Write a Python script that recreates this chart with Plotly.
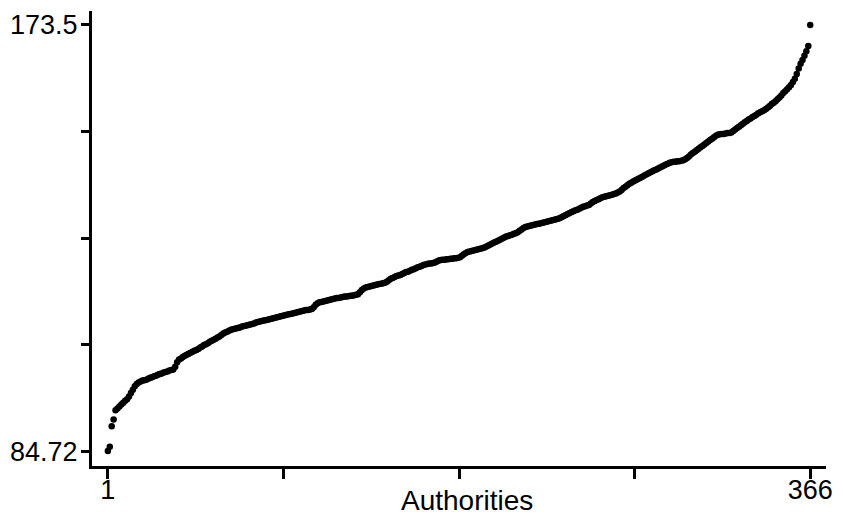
import plotly.graph_objects as go

# Sorted values for each authority (rank 1..366)
values = [
    84.72, 85.6, 89.9, 91.3, 93.2, 93.6, 94.0, 94.4, 94.8, 95.2,
    95.5, 96.1, 96.8, 97.5, 98.2, 98.7, 99.0, 99.2, 99.4, 99.5,
    99.6, 99.8, 100.0, 100.1, 100.3, 100.4, 100.6, 100.8, 100.9, 101.1,
    101.2, 101.3, 101.5, 101.6, 101.7, 102.3, 103.2, 103.8, 104.0, 104.3,
    104.6, 104.8, 105.0, 105.2, 105.4, 105.6, 105.8, 106.0, 106.3, 106.5,
    106.8, 107.0, 107.2, 107.5, 107.7, 107.9, 108.1, 108.4, 108.6, 108.9,
    109.2, 109.4, 109.6, 109.8, 110.0, 110.1, 110.2, 110.3, 110.4, 110.5,
    110.7, 110.8, 110.9, 111.0, 111.1, 111.2, 111.3, 111.5, 111.6, 111.7,
    111.8, 111.9, 112.0, 112.1, 112.2, 112.3, 112.4, 112.5, 112.6, 112.7,
    112.8, 112.9, 113.0, 113.1, 113.2, 113.3, 113.4, 113.5, 113.6, 113.7,
    113.8, 113.9, 114.0, 114.1, 114.1, 114.2, 114.3, 114.7, 115.2, 115.5,
    115.7, 115.8, 115.9, 116.0, 116.1, 116.2, 116.3, 116.4, 116.5, 116.6,
    116.6, 116.7, 116.8, 116.9, 116.9, 117.0, 117.1, 117.1, 117.2, 117.3,
    117.4, 117.8, 118.3, 118.6, 118.8, 118.9, 119.0, 119.1, 119.2, 119.3,
    119.4, 119.5, 119.6, 119.7, 119.8, 120.0, 120.3, 120.6, 120.8, 121.0,
    121.2, 121.3, 121.4, 121.6, 121.8, 122.0, 122.1, 122.3, 122.5, 122.6,
    122.8, 123.0, 123.1, 123.3, 123.5, 123.6, 123.7, 123.8, 123.8, 123.9,
    124.0, 124.2, 124.4, 124.5, 124.6, 124.6, 124.7, 124.7, 124.8, 124.8,
    124.9, 124.9, 125.0, 125.1, 125.4, 125.7, 126.0, 126.2, 126.3, 126.4,
    126.5, 126.6, 126.7, 126.8, 126.9, 127.0, 127.2, 127.4, 127.6, 127.8,
    128.0, 128.2, 128.4, 128.6, 128.8, 129.0, 129.2, 129.4, 129.5, 129.7,
    129.8, 130.0, 130.1, 130.3, 130.6, 130.9, 131.2, 131.4, 131.5, 131.6,
    131.7, 131.8, 131.9, 132.0, 132.1, 132.2, 132.3, 132.4, 132.5, 132.6,
    132.7, 132.8, 132.9, 133.0, 133.1, 133.3, 133.5, 133.7, 133.9, 134.1,
    134.3, 134.5, 134.7, 134.9, 135.0, 135.2, 135.4, 135.6, 135.7, 135.9,
    136.0, 136.3, 136.6, 136.8, 137.0, 137.2, 137.4, 137.6, 137.7, 137.8,
    137.9, 138.0, 138.1, 138.3, 138.4, 138.6, 138.8, 139.1, 139.5, 139.8,
    140.1, 140.4, 140.6, 140.9, 141.1, 141.3, 141.5, 141.7, 141.9, 142.2,
    142.4, 142.6, 142.8, 143.0, 143.2, 143.4, 143.6, 143.8, 144.0, 144.2,
    144.4, 144.6, 144.8, 144.9, 145.0, 145.0, 145.1, 145.1, 145.2, 145.3,
    145.5, 145.8, 146.1, 146.5, 146.8, 147.1, 147.4, 147.7, 148.0, 148.3,
    148.6, 148.9, 149.2, 149.5, 149.8, 150.1, 150.4, 150.6, 150.7, 150.8,
    150.8, 150.9, 151.0, 151.0, 151.1, 151.4, 151.7, 152.0, 152.3, 152.6,
    152.9, 153.2, 153.5, 153.8, 154.0, 154.3, 154.5, 154.8, 155.1, 155.3,
    155.5, 155.7, 156.0, 156.3, 156.6, 157.0, 157.3, 157.6, 158.0, 158.4,
    158.8, 159.3, 159.7, 160.1, 160.5, 161.0, 161.6, 162.3, 163.3, 164.4,
    165.4, 166.2, 167.1, 168.0, 169.1, 173.5,
]
ranks = list(range(1, len(values) + 1))

x_tickvals = [1, 92.25, 183.5, 274.75, 366]
x_ticktext = ["1", "", "", "", "366"]
y_tickvals = [84.72, 106.915, 129.11, 151.305, 173.5]
y_ticktext = ["84.72", "", "", "", "173.5"]
x_title = "Authorities"

FONT = "Liberation Sans, Arial, Helvetica, sans-serif"

fig = go.Figure(
    go.Scatter(
        x=ranks,
        y=values,
        mode="markers",
        marker=dict(color="black", size=6.5, line=dict(width=0)),
        hoverinfo="x+y",
    )
)

fig.update_layout(
    width=843,
    height=515,
    margin=dict(l=92, r=10, t=10, b=48),
    paper_bgcolor="white",
    plot_bgcolor="white",
    showlegend=False,
    font=dict(family=FONT, color="black"),
    annotations=[
        dict(
            text=x_title,
            xref="paper", yref="paper",
            x=0.5115, y=-0.0766,
            xanchor="center", yanchor="middle",
            showarrow=False,
            font=dict(family=FONT, size=28, color="black"),
        )
    ],
)

fig.update_xaxes(
    range=[-7.24, 374.2],
    showgrid=False, zeroline=False,
    showline=True, linecolor="black", linewidth=3,
    ticks="outside", ticklen=10, tickwidth=2.5, tickcolor="black",
    tickvals=x_tickvals, ticktext=x_ticktext,
    tickfont=dict(family=FONT, size=27, color="black"),
    ticklabelstandoff=-12,
)

fig.update_yaxes(
    range=[81.61, 176.4],
    showgrid=False, zeroline=False,
    showline=True, linecolor="black", linewidth=3,
    ticks="outside", ticklen=8, tickwidth=2.5, tickcolor="black",
    tickvals=y_tickvals, ticktext=y_ticktext,
    tickfont=dict(family=FONT, size=27, color="black"),
    ticklabelstandoff=-2,
)

fig.write_html("out.html")
